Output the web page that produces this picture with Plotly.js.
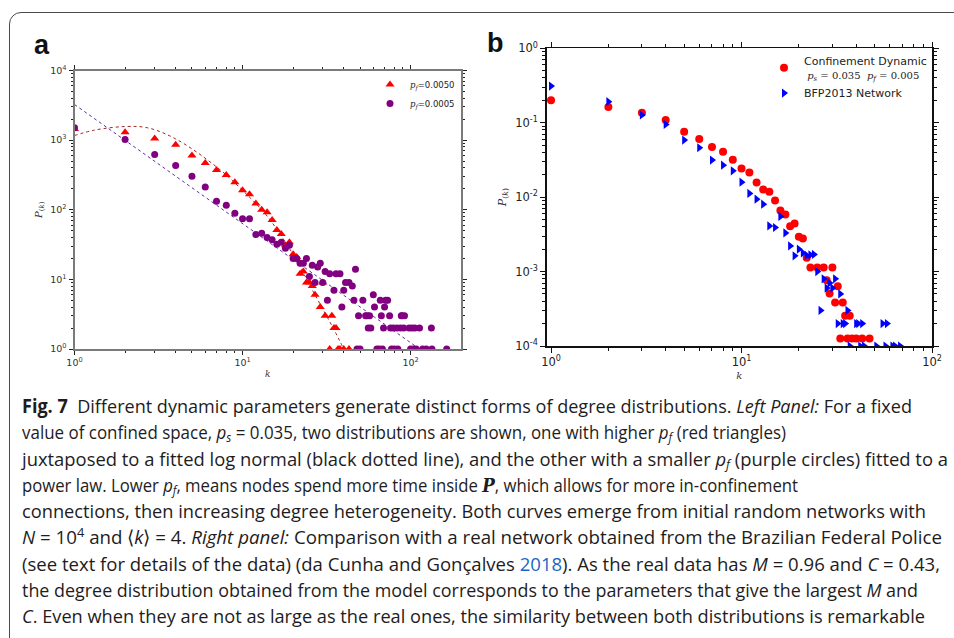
<!DOCTYPE html>
<html><head><meta charset="utf-8">
<script src="https://cdn.plot.ly/plotly-3.0.1.min.js"></script>
<style>
html,body{margin:0;padding:0;background:#fff;width:954px;height:638px;overflow:hidden;}
#chart{position:absolute;left:0;top:0;width:954px;height:638px;}
#frame{position:absolute;left:9px;top:12px;width:1000px;height:700px;border:1px solid #4a4a4a;border-top-left-radius:12px;pointer-events:none;}
#caption{position:absolute;left:22px;top:393px;font-family:'Open Sans',sans-serif;font-size:19px;line-height:26.3px;color:#1e1c1d;}
#caption .ln{white-space:nowrap;transform-origin:0 0;width:max-content;font-size:19px;}
#caption sub{font-size:13px;vertical-align:-0.25em;line-height:0;}
#caption sup{font-size:13px;vertical-align:0.55em;line-height:0;}
#caption a{color:#1a66c8;text-decoration:none;font-size:19px;}
</style></head>
<body>
<div id="chart"></div>
<div id="frame"></div>
<div id="caption">
<div class="ln" data-w="890"><b>Fig. 7</b>&nbsp; Different dynamic parameters generate distinct forms of degree distributions. <i>Left Panel:</i> For a fixed</div>
<div class="ln" data-w="764">value of confined space, <i>p<sub>s</sub></i> = 0.035, two distributions are shown, one with higher <i>p<sub>f</sub></i> (red triangles)</div>
<div class="ln" data-w="926">juxtaposed to a fitted log normal (black dotted line), and the other with a smaller <i>p<sub>f</sub></i> (purple circles) fitted to a</div>
<div class="ln" data-w="776">power law. Lower <i>p<sub>f</sub></i>, means nodes spend more time inside <b><i style="font-family:'DejaVu Serif',serif">P</i></b>, which allows for more in-confinement</div>
<div class="ln" data-w="904">connections, then increasing degree heterogeneity. Both curves emerge from initial random networks with</div>
<div class="ln" data-w="920"><i>N</i> = 10<sup>4</sup> and ⟨<i>k</i>⟩ = 4. <i>Right panel:</i> Comparison with a real network obtained from the Brazilian Federal Police</div>
<div class="ln" data-w="918">(see text for details of the data) (da Cunha and Gonçalves <a>2018</a>). As the real data has <i>M</i> = 0.96 and <i>C</i> = 0.43,</div>
<div class="ln" data-w="896">the degree distribution obtained from the model corresponds to the parameters that give the largest <i>M</i> and</div>
<div class="ln" data-w="903"><i>C</i>. Even when they are not as large as the real ones, the similarity between both distributions is remarkable</div>
</div>
<script>
// ---------- Panel a: counts of nodes with degree k ----------
const kHighPf = [1,2,3,4,5,6,7,8,9,10,11,12,13,14,15,16,17,18,19,20,21,22,23,24,25,26,27,29,30,31,33,34,35,36,37,38,40,43];
const nHighPf = [1450,1300,1055,855,600,471,373,316,248,190,167,123,100,92,71,51,45,31,34,23,21,12,13,9,9,8,6,4,9,3,1,3,2,2,1,1,1,1];

const kLowPf = [1,2,3,4,5,6,7,8,9,10,11,12,13,14,15,16,17,18,19,20,21,22,23,24,25,26,27,28,29,30,31,32,33,35,36,38,39,40,41,43,45,46,47,48,49,50,52,54,55,56,57,58,60,61,63,65,66,67,68,69,70,71,73,75,76,77,79,80,83,84,87,88,89,91,92,98,100,102,104,106,108,113,118,124,133,134,164];
const nLowPf = [1500,1020,621,431,303,213,132,116,89,74,74,44,46,40,37,32,34,28,31,20,20,17,17,20,11,16,9,15,17,9,13,5,12,7,12,12,4,7,9,9,8,5,14,1,3,1,5,3,3,2,3,2,6,4,1,1,5,3,1,2,4,5,5,3,2,1,2,1,2,1,2,3,3,2,3,2,1,2,1,2,1,2,1,1,2,1,1];

// fitted curves
const kLogNormalFit = [1,1.31,2,2.73,4,7,10,14,20,26.6,35,40];
const nLogNormalFit = [1164,1390,1567,1500,1042,413,190,81,22.7,6.4,1.9,1];
const kPowerLawFit = [1,5,20,113];
const nPowerLawFit = [3250,205,19,1];

// ---------- Panel b: degree distributions P(k) ----------
const kConfinement = [1,2,3,4,5,6,7,8,9,10,11,12,13,14,15,16,17,18,19,20,21,22,23,25,27,28,29,30,31,32,33,34,35,36,37,38,40,43,47];
const pConfinement = [0.200,0.163,0.136,0.109,0.0757,0.0603,0.0471,0.0407,0.0318,0.0243,0.0215,0.0157,0.0127,0.0118,0.00902,0.00662,0.00585,0.00407,0.00442,0.00293,0.00278,0.00153,0.00113,0.00113,0.00113,0.000764,0.000506,0.00113,0.000383,0.000635,0.000126,0.000383,0.000254,0.000126,0.000254,0.000126,0.000126,0.000126,0.000126];

const kBFP = [1,2,3,4,5,6,7,8,9,10,11,12,13,14,15,16,17,18,19,20,21,22,23,24,25,26,27,28,29,30,31,32,33,34,35,36,37,40,41,42,43,44,51,55,57,58,62,64,68];
const pBFP = [0.311,0.192,0.127,0.095,0.0585,0.0461,0.0315,0.0269,0.0226,0.0159,0.0112,0.0094,0.00805,0.00411,0.00391,0.0055,0.00331,0.00221,0.00163,0.0020,0.00178,0.00165,0.00168,0.0017,0.0010,0.0003,0.0008,0.0006,0.0007,0.0006,0.0008,0.0002,0.0005,0.0002,0.0002,0.0003,0.0001,0.0002,0.0002,0.0001,0.0002,0.0001,0.0001,0.0002,0.0001,0.0002,0.0001,0.0001,0.0001];

const tickValsA_x = [1,10,100];
const tickTextA_x = ['10<sup>0</sup>','10<sup>1</sup>','10<sup>2</sup>'];
const tickValsA_y = [1,10,100,1000,10000];
const tickTextA_y = ['10<sup>0</sup>','10<sup>1</sup>','10<sup>2</sup>','10<sup>3</sup>','10<sup>4</sup>'];
const tickValsB_y = [0.0001,0.001,0.01,0.1,1];
const tickTextB_y = ['10<sup>-4</sup>','10<sup>-3</sup>','10<sup>-2</sup>','10<sup>-1</sup>','10<sup>0</sup>'];

const W = 954, H = 638;
const px = v => v / W, py = v => (H - v) / H;
const SERIF = "'DejaVu Serif', serif";
const SANS = "'DejaVu Sans', sans-serif";

const traces = [
  {x:kLogNormalFit, y:nLogNormalFit, xaxis:'x', yaxis:'y', mode:'lines', line:{color:'#a3241f', width:1, dash:'3px,3px', shape:'spline', smoothing:1}, showlegend:false, hoverinfo:'skip'},
  {x:kPowerLawFit, y:nPowerLawFit, xaxis:'x', yaxis:'y', mode:'lines', line:{color:'#5a2ea6', width:1, dash:'3px,3px'}, showlegend:false, hoverinfo:'skip'},
  {x:kHighPf, y:nHighPf, xaxis:'x', yaxis:'y', mode:'markers', name:'<span style="font-family:\'DejaVu Serif\';font-style:italic">p<sub>f</sub></span>=0.0050', marker:{symbol:'triangle-up', size:8, color:'#ff0000'}, legend:'legend'},
  {x:kLowPf, y:nLowPf, xaxis:'x', yaxis:'y', mode:'markers', name:'<span style="font-family:\'DejaVu Serif\';font-style:italic">p<sub>f</sub></span>=0.0005', marker:{symbol:'circle', size:7, color:'#800080'}, legend:'legend'},
  {x:kConfinement, y:pConfinement, xaxis:'x2', yaxis:'y2', mode:'markers', name:'Confinement Dynamic<br><span style="font-family:\'DejaVu Serif\';font-size:10px"> <i>p<sub>s</sub></i> = 0.035  <i>p<sub>f</sub></i> = 0.005</span>', marker:{symbol:'circle', size:8, color:'#ff0000'}, legend:'legend2'},
  {x:kBFP, y:pBFP, xaxis:'x2', yaxis:'y2', mode:'markers', name:'BFP2013 Network', marker:{symbol:'triangle-right', size:8, color:'#0000ff'}, legend:'legend2'}
];

const axA = {type:'log', showgrid:false, zeroline:false, showline:true, linecolor:'#7a7a7a', linewidth:2, mirror:'ticks',
  ticks:'outside', ticklen:4, tickwidth:1, tickcolor:'#222', tickfont:{family:SANS, size:9.5, color:'#333'},
  minor:{ticks:'outside', ticklen:2, tickwidth:1, tickcolor:'#222', dtick:'D1', showgrid:false}};
const axB = {type:'log', showgrid:false, zeroline:false, showline:true, linecolor:'#111', linewidth:1.5, mirror:'ticks',
  ticks:'outside', ticklen:5, tickwidth:1, tickcolor:'#111', tickfont:{family:SANS, size:11.5, color:'#222'},
  minor:{ticks:'outside', ticklen:3, tickwidth:1, tickcolor:'#111', dtick:'D1', showgrid:false}};

const layout = {
  width:W, height:H, margin:{l:0,r:0,t:0,b:0}, paper_bgcolor:'#fff', plot_bgcolor:'#fff', showlegend:true,
  font:{family:SANS, size:10, color:'#222'},
  xaxis:Object.assign({}, axA, {domain:[px(74.5), px(461)], range:[0, 2.3], anchor:'y', tickmode:'array', tickvals:tickValsA_x, ticktext:tickTextA_x,
    title:{text:'<i>k</i>', font:{family:SERIF, size:9, color:'#333'}, standoff:3}}),
  yaxis:Object.assign({}, axA, {domain:[py(349), py(70.5)], range:[0, 4], anchor:'x', tickmode:'array', tickvals:tickValsA_y, ticktext:tickTextA_y,
    title:{text:'<i>P</i><sub>(<i>k</i>)</sub>', font:{family:SERIF, size:10, color:'#333'}, standoff:6}}),
  xaxis2:Object.assign({}, axB, {domain:[px(546.7), px(932)], range:[-0.0226, 2], anchor:'y2', tickmode:'array', tickvals:tickValsA_x, ticktext:tickTextA_x,
    title:{text:'<i>k</i>', font:{family:SERIF, size:10, color:'#333'}, standoff:3}}),
  yaxis2:Object.assign({}, axB, {domain:[py(346), py(48.3)], range:[-4, 0], anchor:'x2', tickmode:'array', tickvals:tickValsB_y, ticktext:tickTextB_y,
    title:{text:'<i>P</i><sub>(<i>k</i>)</sub>', font:{family:SERIF, size:11, color:'#333'}, standoff:6}}),
  legend:{x:px(370), y:py(70), xanchor:'left', yanchor:'top', bgcolor:'rgba(0,0,0,0)', font:{family:SANS, size:8.5, color:'#222'}, itemwidth:30, tracegroupgap:0},
  legend2:{x:px(764), y:py(47), xanchor:'left', yanchor:'top', bgcolor:'rgba(0,0,0,0)', font:{family:SANS, size:11, color:'#222'}, itemwidth:30, tracegroupgap:0},
  annotations:[
    {text:'<b>a</b>', xref:'paper', yref:'paper', x:px(32), y:py(28), xanchor:'left', yanchor:'top', showarrow:false, font:{family:'Liberation Sans, Arial, sans-serif', size:27, color:'#111'}},
    {text:'<b>b</b>', xref:'paper', yref:'paper', x:px(485), y:py(26), xanchor:'left', yanchor:'top', showarrow:false, font:{family:'Liberation Sans, Arial, sans-serif', size:27, color:'#111'}}
  ]
};

Plotly.newPlot('chart', traces, layout, {displayModeBar:false, staticPlot:true});

document.querySelectorAll('#caption .ln').forEach(el => {
  const w = el.getBoundingClientRect().width;
  const target = parseFloat(el.dataset.w);
  el.style.transform = 'scaleX(' + (target / w) + ')';
});
</script>
</body></html>
